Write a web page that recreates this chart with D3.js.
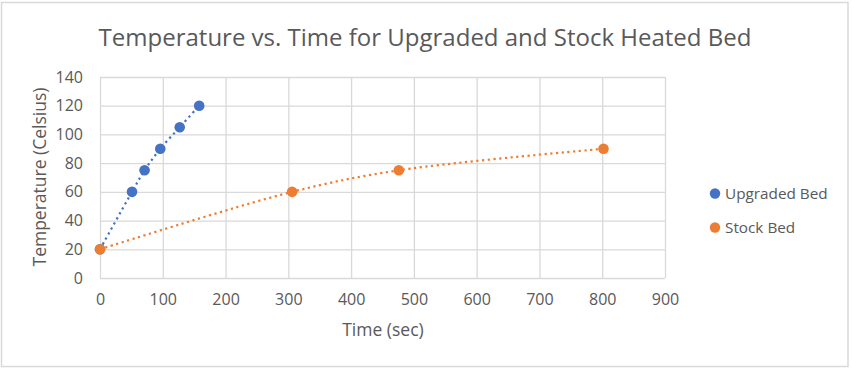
<!DOCTYPE html>
<html>
<head>
<meta charset="utf-8">
<script src="https://cdn.jsdelivr.net/npm/d3@7"></script>
<style>
    body { margin: 0; background: #fff; }
    text { font-family: "Open Sans", "DejaVu Sans", sans-serif; fill: #595959; }
</style>
</head>
<body>
<div id="chart-container"></div>
<script>
// Chart values
const seriesNames = ['Upgraded Bed', 'Stock Bed']
const upgradedTime = [0, 51, 71, 96, 127, 158]
const upgradedTemp = [20, 60, 75, 90, 105, 120]
const stockTime = [0, 306, 476, 802]
const stockTemp = [20, 60, 75, 90]
const xTickValues = [0, 100, 200, 300, 400, 500, 600, 700, 800, 900]
const yTickValues = [0, 20, 40, 60, 80, 100, 120, 140]

class HeatedBedChart {
    constructor(series, options) {
        this.series = series
        this.width = options.width
        this.height = options.height

        // Plot area
        this.left = 100
        this.right = 665
        this.top = 77
        this.bottom = 278

        this.gridColor = '#d9d9d9'
        this.markerRadius = 5.3

        this.xScale = d3.scaleLinear().domain([0, 900]).range([this.left, this.right])
        this.yScale = d3.scaleLinear().domain([0, 140]).range([this.bottom, this.top])

        this.svg = d3.select('#chart-container')
            .append('svg')
            .attr('width', this.width)
            .attr('height', this.height)
    }

    plot() {
        this.#createFrame()
        this.#createTitle()
        this.#createAxes()
        this.#plotData()
        this.#createLegend()
    }

    #createFrame() {
        this.svg.append('rect')
            .attr('x', 1.5)
            .attr('y', 2.5)
            .attr('width', 846.5)
            .attr('height', 364)
            .attr('fill', '#fff')
            .attr('stroke', this.gridColor)
            .attr('stroke-width', 1.5)
    }

    #createTitle() {
        this.svg.append('text')
            .attr('x', 425)
            .attr('y', 46)
            .attr('text-anchor', 'middle')
            .attr('font-size', '24px')
            .text('Temperature vs. Time for Upgraded and Stock Heated Bed')
    }

    #createAxes() {
        const xAxis = d3.axisBottom(this.xScale)
            .tickValues(xTickValues)
            .tickSize(-(this.bottom - this.top))
            .tickPadding(16)
        const gx = this.svg.append('g')
            .attr('transform', 'translate(0,' + this.bottom + ')')
            .call(xAxis)

        const yAxis = d3.axisLeft(this.yScale)
            .tickValues(yTickValues)
            .tickSize(-(this.right - this.left))
            .tickPadding(17)
        const gy = this.svg.append('g')
            .attr('transform', 'translate(' + this.left + ',0)')
            .call(yAxis)

        for (const g of [gx, gy]) {
            g.select('.domain').remove()
            g.selectAll('.tick line').attr('stroke', this.gridColor).attr('stroke-width', 1.3)
            g.selectAll('.tick text')
                .attr('font-size', '16px')
                .attr('fill', '#595959')
            g.attr('font-family', null).attr('font-size', null)
        }

        this.svg.append('text')
            .attr('x', 383)
            .attr('y', 336)
            .attr('text-anchor', 'middle')
            .attr('font-size', '17.5px')
            .text('Time (sec)')

        this.svg.append('text')
            .attr('transform', 'translate(46,177) rotate(-90)')
            .attr('text-anchor', 'middle')
            .attr('font-size', '17.5px')
            .text('Temperature (Celsius)')
    }

    #plotData() {
        const line = d3.line()
            .x(d => this.xScale(d.time))
            .y(d => this.yScale(d.temp))
            .curve(d3.curveCatmullRom)

        for (const s of this.series) {
            this.svg.append('path')
                .datum(s.points)
                .attr('d', line)
                .attr('fill', 'none')
                .attr('stroke', s.color)
                .attr('stroke-width', 2.2)
                .attr('stroke-dasharray', '2.2 3.5')
        }
        for (const s of this.series) {
            this.svg.selectAll(null)
                .data(s.points)
                .enter()
                .append('circle')
                .attr('cx', d => this.xScale(d.time))
                .attr('cy', d => this.yScale(d.temp))
                .attr('r', this.markerRadius)
                .attr('fill', s.color)
        }
    }

    #createLegend() {
        const items = this.svg.append('g')
            .selectAll('g')
            .data(this.series)
            .enter()
            .append('g')
            .attr('transform', (d, i) => `translate(715, ${193.5 + i * 34})`)

        items.append('circle')
            .attr('r', 5.2)
            .attr('fill', d => d.color)

        items.append('text')
            .attr('x', 10)
            .attr('y', 5.5)
            .attr('font-size', '15.3px')
            .text(d => d.name)
    }
}

const series = [
    { name: seriesNames[0], color: '#4472c4', points: upgradedTime.map((t, i) => ({ time: t, temp: upgradedTemp[i] })) },
    { name: seriesNames[1], color: '#ed7d31', points: stockTime.map((t, i) => ({ time: t, temp: stockTemp[i] })) }
]

const chart = new HeatedBedChart(series, { width: 852, height: 371 })
chart.plot()
</script>
</body>
</html>
